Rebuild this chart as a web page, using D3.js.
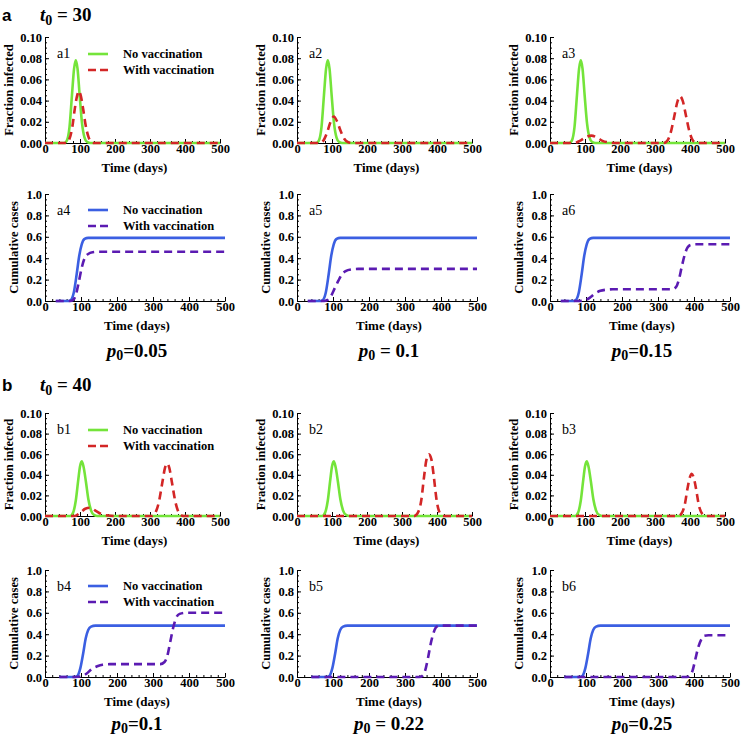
<!DOCTYPE html>
<html>
<head>
<meta charset="utf-8">
<script src="https://cdn.jsdelivr.net/npm/d3@7"></script>
<style>
body { margin: 0; background: #fff; }
text { font-family: "Liberation Serif", "Times New Roman", "DejaVu Serif", serif; }
</style>
</head>
<body>
<svg id="fig" width="741" height="738"></svg>
<script>
// --- data: [day, value] ---
var greenA = [[0,0],[55,0],[62,0.002],[70,0.015],[77,0.045],[83,0.07],[88,0.078],[93,0.07],[99,0.045],[106,0.018],[113,0.005],[120,0.001],[130,0],[500,0]];
var redA1 = [[0,0],[60,0],[70,0.004],[78,0.015],[85,0.032],[92,0.045],[97,0.049],[102,0.045],[109,0.032],[116,0.017],[124,0.006],[132,0.001],[140,0],[500,0]];
var redA2 = [[0,0],[65,0],[75,0.002],[85,0.009],[95,0.019],[105,0.025],[115,0.02],[125,0.011],[135,0.004],[145,0.001],[160,0],[500,0]];
var redA3 = [[0,0],[70,0],[85,0.002],[100,0.005],[118,0.007],[135,0.005],[150,0.002],[170,0.0005],[190,0],[325,0],[335,0.002],[345,0.01],[355,0.025],[365,0.04],[372,0.044],[379,0.04],[389,0.025],[399,0.01],[409,0.002],[420,0],[500,0]];

var blueA = [[30,0],[65,0],[72,0.01],[80,0.08],[88,0.25],[95,0.42],[102,0.53],[110,0.58],[120,0.59],[500,0.59]];
var purpleA4 = [[30,0],[70,0],[78,0.01],[86,0.06],[94,0.18],[102,0.31],[110,0.40],[120,0.44],[132,0.455],[150,0.46],[500,0.46]];
var purpleA5 = [[30,0],[75,0],[85,0.01],[95,0.05],[105,0.12],[115,0.19],[125,0.25],[135,0.28],[150,0.295],[170,0.30],[500,0.30]];
var purpleA6 = [[30,0],[80,0],[95,0.005],[110,0.03],[125,0.07],[140,0.095],[155,0.105],[175,0.11],[340,0.11],[350,0.13],[358,0.2],[366,0.32],[374,0.43],[382,0.5],[392,0.525],[405,0.53],[500,0.53]];

var greenB = [[0,0],[72,0],[80,0.003],[88,0.015],[95,0.035],[100,0.048],[105,0.053],[110,0.048],[117,0.033],[124,0.016],[132,0.005],[140,0.001],[150,0],[500,0]];
var redB1 = [[0,0],[85,0],[100,0.003],[115,0.007],[128,0.008],[145,0.005],[160,0.002],[180,0.0005],[200,0],[305,0],[315,0.003],[325,0.013],[335,0.032],[343,0.047],[349,0.051],[355,0.047],[363,0.032],[373,0.013],[383,0.003],[395,0],[500,0]];
var redB2 = [[0,0],[335,0],[345,0.003],[355,0.015],[363,0.038],[370,0.055],[377,0.06],[384,0.055],[391,0.038],[399,0.015],[408,0.003],[418,0],[500,0]];
var redB3 = [[0,0],[365,0],[375,0.002],[385,0.011],[393,0.027],[400,0.038],[405,0.041],[410,0.038],[417,0.027],[425,0.011],[435,0.002],[445,0],[500,0]];

var blueB = [[40,0],[82,0],[90,0.01],[98,0.08],[106,0.22],[113,0.36],[120,0.44],[128,0.47],[140,0.48],[500,0.48]];
var purpleB4 = [[40,0],[85,0],[100,0.005],[115,0.03],[130,0.075],[145,0.1],[160,0.115],[180,0.12],[320,0.12],[332,0.14],[340,0.2],[348,0.33],[356,0.46],[364,0.55],[374,0.59],[390,0.6],[500,0.6]];
var purpleB5 = [[40,0],[340,0],[348,0.01],[356,0.06],[364,0.18],[372,0.32],[380,0.42],[388,0.47],[398,0.48],[500,0.48]];
var purpleB6 = [[40,0],[380,0],[388,0.01],[396,0.06],[404,0.17],[412,0.28],[420,0.35],[428,0.385],[440,0.39],[500,0.39]];

var xTicks = [0, 100, 200, 300, 400, 500];
var fracTicks = [0, 0.02, 0.04, 0.06, 0.08, 0.10];
var cumTicks = [0, 0.2, 0.4, 0.6, 0.8, 1.0];
var legendLabels = ["No vaccination", "With vaccination"];
var p0Labels = ["=0.05", " = 0.1", "=0.15", "=0.1", " = 0.22", "=0.25"];
var groupLabels = [["a", "30"], ["b", "40"]];

var colGreen = "#74e43a", colRed = "#d32626", colBlue = "#3b5fe2", colPurple = "#5b1bb2";

var svg = d3.select("#fig");
var colX = [45, 297, 550];
var rows = [
  {top: 37, bottom: 143, kind: "frac"},
  {top: 194, bottom: 301, kind: "cum"},
  {top: 413, bottom: 516, kind: "frac"},
  {top: 570, bottom: 677, kind: "cum"}
];

var panels = [
  {id: "a1", row: 0, col: 0, base: greenA, vac: redA1, legend: true},
  {id: "a2", row: 0, col: 1, base: greenA, vac: redA2},
  {id: "a3", row: 0, col: 2, base: greenA, vac: redA3},
  {id: "a4", row: 1, col: 0, base: blueA, vac: purpleA4, legend: true},
  {id: "a5", row: 1, col: 1, base: blueA, vac: purpleA5},
  {id: "a6", row: 1, col: 2, base: blueA, vac: purpleA6},
  {id: "b1", row: 2, col: 0, base: greenB, vac: redB1, legend: true},
  {id: "b2", row: 2, col: 1, base: greenB, vac: redB2},
  {id: "b3", row: 2, col: 2, base: greenB, vac: redB3},
  {id: "b4", row: 3, col: 0, base: blueB, vac: purpleB4, legend: true},
  {id: "b5", row: 3, col: 1, base: blueB, vac: purpleB5},
  {id: "b6", row: 3, col: 2, base: blueB, vac: purpleB6}
];

panels.forEach(function(p, i) {
  var r = rows[p.row];
  var frac = r.kind == "frac";
  var x0 = colX[p.col];
  var w = frac ? 175 : 180;
  var x = d3.scaleLinear().domain([0, 500]).range([x0, x0 + w]);
  var y = d3.scaleLinear().domain([0, frac ? 0.1 : 1.0]).range([r.bottom, r.top]);
  var g = svg.append("g").attr("class", "panel " + p.id);

  // minor ticks
  var xMinor = d3.range(0, 501, 20);
  var yMinor = frac ? d3.range(0, 0.1001, 0.005) : d3.range(0, 1.001, 0.05);
  g.append("g").attr("transform", "translate(0," + r.bottom + ")")
    .call(d3.axisBottom(x).tickValues(xMinor).tickSize(-2).tickFormat(""))
    .call(function(s) { s.select(".domain").remove(); });
  g.append("g").attr("transform", "translate(" + x0 + ",0)")
    .call(d3.axisLeft(y).tickValues(yMinor).tickSize(-2).tickFormat(""))
    .call(function(s) { s.select(".domain").remove(); });

  // major axes
  var xa = g.append("g").attr("transform", "translate(0," + r.bottom + ")")
    .call(d3.axisBottom(x).tickValues(xTicks).tickSizeInner(-4).tickSizeOuter(0).tickPadding(3));
  var ya = g.append("g").attr("transform", "translate(" + x0 + ",0)")
    .call(d3.axisLeft(y).tickValues(frac ? fracTicks : cumTicks).tickSizeInner(-4).tickSizeOuter(0)
      .tickPadding(3).tickFormat(d3.format(frac ? ".2f" : ".1f")));
  [xa, ya].forEach(function(a) {
    a.attr("font-family", null);
    a.selectAll("text").attr("font-weight", "bold").attr("font-size", 12.5).attr("fill", "#000");
    a.selectAll("line, path").attr("stroke", "#000").attr("stroke-width", 1);
  });
  xa.selectAll("text").attr("dy", "0.55em");

  // titles
  g.append("text").attr("x", x0 + w / 2 + 2).attr("y", r.bottom + 29)
    .attr("text-anchor", "middle").attr("font-weight", "bold").attr("font-size", 13)
    .text("Time (days)");
  var ty = (r.top + r.bottom) / 2;
  var tx = frac ? x0 - 32 : x0 - 27;
  g.append("text").attr("transform", "translate(" + tx + "," + ty + ") rotate(-90)")
    .attr("text-anchor", "middle").attr("font-weight", "bold").attr("font-size", 12.5)
    .text(frac ? "Fraction infected" : "Cumulative cases");
  g.append("text").attr("x", x0 + 12).attr("y", r.top + 21)
    .attr("font-size", 14).text(p.id);

  // curves
  var line = d3.line().x(function(d) { return x(d[0]); }).y(function(d) { return y(d[1]); })
    .curve(d3.curveMonotoneX);
  var c1 = frac ? colGreen : colBlue, c2 = frac ? colRed : colPurple;
  g.append("path").datum(p.base).attr("d", line).attr("fill", "none")
    .attr("stroke", c1).attr("stroke-width", 2.6);
  g.append("path").datum(p.vac).attr("d", line).attr("fill", "none")
    .attr("stroke", c2).attr("stroke-width", 2.6).attr("stroke-dasharray", "8,5");

  // legend
  if (p.legend) {
    var ly = frac ? r.top + 17 : r.top + 16;
    [c1, c2].forEach(function(c, k) {
      var yy = ly + k * 16;
      g.append("line").attr("x1", x0 + 43).attr("x2", x0 + 63).attr("y1", yy).attr("y2", yy)
        .attr("stroke", c).attr("stroke-width", 2.6).attr("stroke-dasharray", k ? "8,4" : null);
      g.append("text").attr("x", x0 + 78).attr("y", yy + 4).attr("font-weight", "bold")
        .attr("font-size", 12.5).text(legendLabels[k]);
    });
  }

  // p0 under cumulative panels
  if (!frac) {
    var t = g.append("text").attr("x", x0 + w / 2 + 2).attr("y", r.bottom + (p.row == 1 ? 56 : 53))
      .attr("text-anchor", "middle").attr("font-weight", "bold").attr("font-size", 19);
    t.append("tspan").attr("font-style", "italic").text("p");
    t.append("tspan").attr("font-size", 14).attr("dy", 3).text("0");
    t.append("tspan").attr("dy", -3).text(p0Labels[(p.row == 1 ? 0 : 3) + p.col]);
  }
});

// group headers
groupLabels.forEach(function(gl, k) {
  var yy = k == 0 ? 21 : 391;
  svg.append("text").attr("x", 2).attr("y", yy).style("font-family", "'Liberation Sans', Arial, sans-serif")
    .attr("font-weight", "bold").attr("font-size", 17).text(gl[0]);
  var t = svg.append("text").attr("x", 40).attr("y", yy).attr("font-weight", "bold").attr("font-size", 19);
  t.append("tspan").attr("font-style", "italic").text("t");
  t.append("tspan").attr("font-size", 14).attr("dy", 4).text("0");
  t.append("tspan").attr("dy", -4).text(" = " + gl[1]);
});
</script>
</body>
</html>
